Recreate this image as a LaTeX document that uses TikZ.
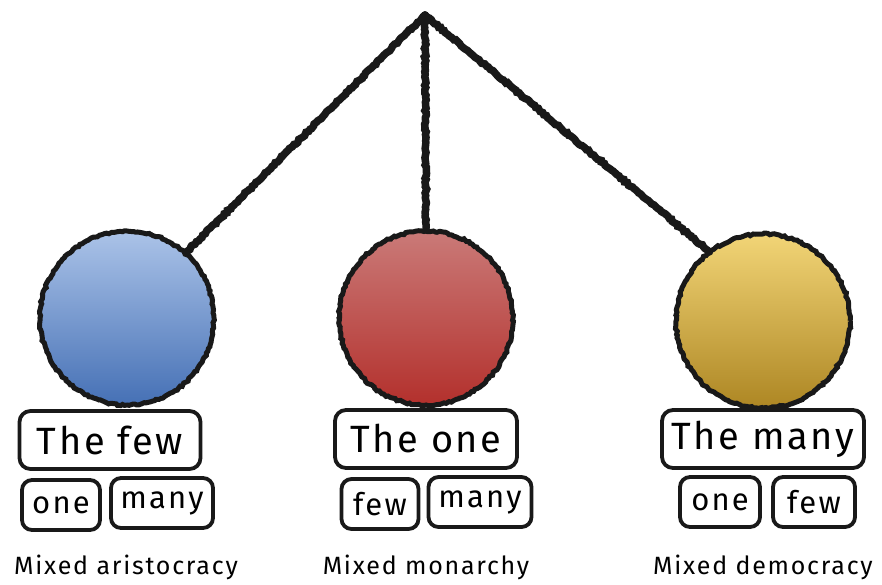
\documentclass[tikz,border=0pt]{standalone}
\usepackage{fontspec}
\setmainfont{Fira Sans}
\usetikzlibrary{decorations.pathmorphing}
\definecolor{bluetop}{HTML}{ABC3E8}
\definecolor{bluebot}{HTML}{4570B5}
\definecolor{redtop}{HTML}{CA7A78}
\definecolor{redbot}{HTML}{B3302C}
\definecolor{goldtop}{HTML}{F2D577}
\definecolor{goldbot}{HTML}{AD8623}
\newcommand{\spaced}{\addfontfeature{LetterSpace=7}}
\tikzset{
  rough/.style={decorate,decoration={random steps,segment length=2.5pt,amplitude=0.9pt}},
  ball/.style={circle,draw=black!90,line width=5pt,minimum size=174pt,inner sep=0pt,rough},
  stem/.style={line width=7.5pt,draw=black!90,rough,line cap=round},
  bigbox/.style={draw=black!90,line width=3.8pt,rounded corners=11pt,minimum height=58pt,inner sep=0pt,font=\fontsize{38}{40}\selectfont\spaced},
  smallbox/.style={draw=black!90,line width=3.8pt,rounded corners=10pt,minimum height=50pt,inner sep=0pt,font=\fontsize{31}{33}\selectfont\spaced},
  caption/.style={font=\fontsize{25}{27}\selectfont\spaced,inner sep=0pt}
}
\begin{document}
\begin{tikzpicture}[x=1pt,y=-1pt]
\useasboundingbox (0,0) rectangle (882,584);
\coordinate (apex) at (425,15);
\node[ball,top color=bluetop,bottom color=bluebot] (cA) at (127,318) {};
\node[ball,top color=redtop,bottom color=redbot] (cM) at (426,318) {};
\node[ball,top color=goldtop,bottom color=goldbot] (cD) at (763,321) {};
\draw[stem] (apex) -- (cA.48);
\draw[stem] (apex) -- (cM.north);
\draw[stem] (apex) -- (cD.128);
% aristocracy
\node[bigbox,minimum width=181pt] (fewA) at (110,440) {The few};
\node[smallbox,minimum width=78pt] (oneA) at (61,505) {one};
\node[smallbox,minimum width=102pt] (manyA) at (162,503) {many};
\node[caption] (capA) at (126,567) {Mixed aristocracy};
% monarchy
\node[bigbox,minimum width=182pt] (oneM) at (426,439) {The one};
\node[smallbox,minimum width=77pt] (fewM) at (380,504) {few};
\node[smallbox,minimum width=103pt] (manyM) at (480,502) {many};
\node[caption] (capM) at (426,567) {Mixed monarchy};
% democracy
\node[bigbox,minimum width=202pt] (manyD) at (763,439) {The many};
\node[smallbox,minimum width=80pt] (oneD) at (720,502) {one};
\node[smallbox,minimum width=82pt] (fewD) at (814,502) {few};
\node[caption] (capD) at (763,567) {Mixed democracy};
\end{tikzpicture}
\end{document}
